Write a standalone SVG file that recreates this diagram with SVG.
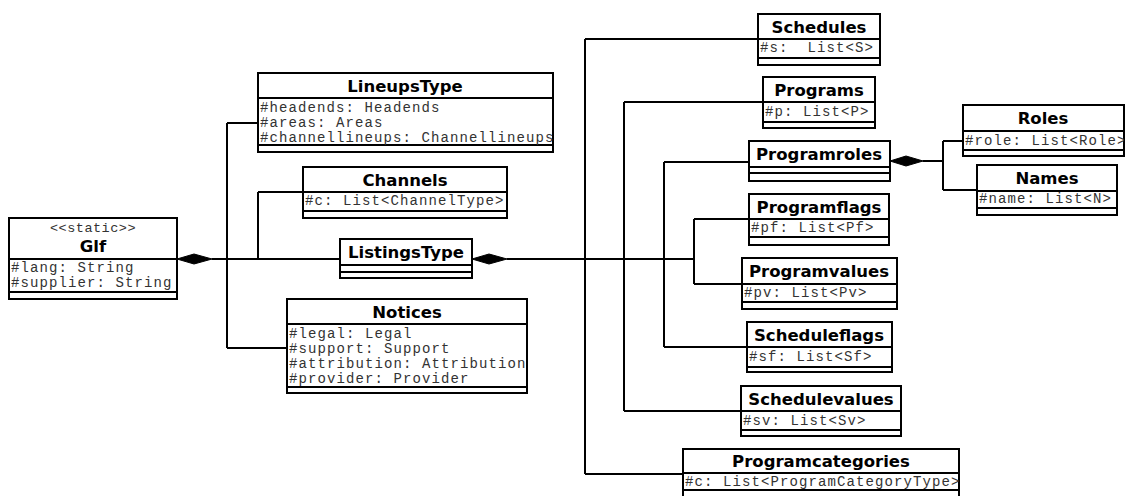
<svg xmlns="http://www.w3.org/2000/svg" width="1126" height="496" viewBox="0 0 1126 496">
<style>
.box{fill:#fff;stroke:#000;stroke-width:2}
.sep{stroke:#000;stroke-width:2}
.t{font-family:"DejaVu Sans",Verdana,sans-serif;font-weight:bold;font-size:16.5px;fill:#000;text-anchor:middle}
.a{font-family:"Liberation Mono","Courier New",monospace;font-size:14px;letter-spacing:1.1px;fill:#333;white-space:pre}
.st{font-family:"Liberation Mono","Courier New",monospace;font-size:13.5px;letter-spacing:0.5px;fill:#333;text-anchor:middle}
.c{fill:none;stroke:#000;stroke-width:2}
.d{fill:#000;stroke:#000;stroke-width:1}
</style>
<rect width="1126" height="496" fill="#fff"/>
<g id="connectors">
<path class="c" d="M212 259H340"/>
<path class="c" d="M227 123V348M227 123H258M227 348H287"/>
<path class="c" d="M258 192V259M258 192H303"/>
<path class="c" d="M507 259H694"/>
<path class="c" d="M585 39V474M585 39H758M585 474H683"/>
<path class="c" d="M624 102V411M624 102H763M624 411H741"/>
<path class="c" d="M664 162V347M664 162H749M664 347H747"/>
<path class="c" d="M694 219V284M694 219H749M694 284H742"/>
<path class="c" d="M923 161H943M943 141V190M943 141H963M943 190H977"/>
<polygon class="d" points="177,259 194,254 212,259 194,264"/>
<polygon class="d" points="472,259 489,254 507,259 489,264"/>
<polygon class="d" points="890,161 906,156 923,161 906,166"/>
</g>
<g id="Glf">
<rect class="box" x="9" y="218" width="168" height="81"/>
<line class="sep" x1="9" y1="259" x2="177" y2="259"/>
<line class="sep" x1="9" y1="292" x2="177" y2="292"/>
<text class="st" x="93" y="232">&lt;&lt;static&gt;&gt;</text>
<text class="t" x="93" y="252">Glf</text>
<text class="a" x="11" y="272">#lang: String</text>
<text class="a" x="11" y="287">#supplier: String</text>
</g>
<g id="LineupsType">
<rect class="box" x="258" y="73" width="295" height="79"/>
<line class="sep" x1="258" y1="98" x2="553" y2="98"/>
<line class="sep" x1="258" y1="145" x2="553" y2="145"/>
<text class="t" x="405" y="92">LineupsType</text>
<svg x="258" y="98" width="295" height="47" overflow="hidden">
<text class="a" x="2" y="14">#headends: Headends</text>
<text class="a" x="2" y="29">#areas: Areas</text>
<text class="a" x="2" y="44">#channellineups: Channellineups</text>
</svg>
</g>
<g id="Channels">
<rect class="box" x="303" y="167" width="204" height="51"/>
<line class="sep" x1="303" y1="192" x2="507" y2="192"/>
<line class="sep" x1="303" y1="211" x2="507" y2="211"/>
<text class="t" x="405" y="186">Channels</text>
<svg x="303" y="192" width="204" height="19" overflow="hidden">
<text class="a" x="2" y="13">#c: List&lt;ChannelType&gt;</text>
</svg>
</g>
<g id="ListingsType">
<rect class="box" x="340" y="239" width="132" height="39"/>
<line class="sep" x1="340" y1="265" x2="472" y2="265"/>
<line class="sep" x1="340" y1="272" x2="472" y2="272"/>
<text class="t" x="406" y="258">ListingsType</text>
</g>
<g id="Notices">
<rect class="box" x="287" y="299" width="240" height="94"/>
<line class="sep" x1="287" y1="324" x2="527" y2="324"/>
<line class="sep" x1="287" y1="387" x2="527" y2="387"/>
<text class="t" x="407" y="318">Notices</text>
<svg x="287" y="324" width="240" height="63" overflow="hidden">
<text class="a" x="2" y="14">#legal: Legal</text>
<text class="a" x="2" y="29">#support: Support</text>
<text class="a" x="2" y="44">#attribution: Attribution</text>
<text class="a" x="2" y="59">#provider: Provider</text>
</svg>
</g>
<g id="Schedules">
<rect class="box" x="758" y="14" width="122" height="51"/>
<line class="sep" x1="758" y1="39" x2="880" y2="39"/>
<line class="sep" x1="758" y1="58" x2="880" y2="58"/>
<text class="t" x="819" y="33">Schedules</text>
<text class="a" x="760" y="52">#s:  List&lt;S&gt;</text>
</g>
<g id="Programs">
<rect class="box" x="763" y="77" width="112" height="51"/>
<line class="sep" x1="763" y1="102" x2="875" y2="102"/>
<line class="sep" x1="763" y1="122" x2="875" y2="122"/>
<text class="t" x="819" y="96">Programs</text>
<text class="a" x="765" y="116">#p: List&lt;P&gt;</text>
</g>
<g id="Programroles">
<rect class="box" x="749" y="141" width="141" height="40"/>
<line class="sep" x1="749" y1="167" x2="890" y2="167"/>
<line class="sep" x1="749" y1="173" x2="890" y2="173"/>
<text class="t" x="819" y="160">Programroles</text>
</g>
<g id="Programflags">
<rect class="box" x="749" y="194" width="140" height="51"/>
<line class="sep" x1="749" y1="219" x2="889" y2="219"/>
<line class="sep" x1="749" y1="237" x2="889" y2="237"/>
<text class="t" x="819" y="213">Programflags</text>
<text class="a" x="751" y="232">#pf: List&lt;Pf&gt;</text>
</g>
<g id="Programvalues">
<rect class="box" x="742" y="258" width="155" height="51"/>
<line class="sep" x1="742" y1="284" x2="897" y2="284"/>
<line class="sep" x1="742" y1="302" x2="897" y2="302"/>
<text class="t" x="819" y="277">Programvalues</text>
<text class="a" x="744" y="297">#pv: List&lt;Pv&gt;</text>
</g>
<g id="Scheduleflags">
<rect class="box" x="747" y="322" width="145" height="50"/>
<line class="sep" x1="747" y1="347" x2="892" y2="347"/>
<line class="sep" x1="747" y1="367" x2="892" y2="367"/>
<text class="t" x="819" y="341">Scheduleflags</text>
<text class="a" x="749" y="361">#sf: List&lt;Sf&gt;</text>
</g>
<g id="Schedulevalues">
<rect class="box" x="741" y="386" width="160" height="50"/>
<line class="sep" x1="741" y1="411" x2="901" y2="411"/>
<line class="sep" x1="741" y1="430" x2="901" y2="430"/>
<text class="t" x="821" y="405">Schedulevalues</text>
<text class="a" x="743" y="425">#sv: List&lt;Sv&gt;</text>
</g>
<g id="Programcategories">
<rect class="box" x="683" y="449" width="276" height="49"/>
<line class="sep" x1="683" y1="473" x2="959" y2="473"/>
<line class="sep" x1="683" y1="490" x2="959" y2="490"/>
<text class="t" x="821" y="467">Programcategories</text>
<svg x="683" y="473" width="276" height="17" overflow="hidden">
<text class="a" x="2" y="13">#c: List&lt;ProgramCategoryType&gt;</text>
</svg>
</g>
<g id="Roles">
<rect class="box" x="963" y="105" width="161" height="51"/>
<line class="sep" x1="963" y1="131" x2="1124" y2="131"/>
<line class="sep" x1="963" y1="150" x2="1124" y2="150"/>
<text class="t" x="1043" y="124">Roles</text>
<svg x="963" y="131" width="161" height="19" overflow="hidden">
<text class="a" x="2" y="14">#role: List&lt;Role&gt;</text>
</svg>
</g>
<g id="Names">
<rect class="box" x="977" y="165" width="140" height="50"/>
<line class="sep" x1="977" y1="191" x2="1117" y2="191"/>
<line class="sep" x1="977" y1="208" x2="1117" y2="208"/>
<text class="t" x="1047" y="184">Names</text>
<text class="a" x="979" y="203">#name: List&lt;N&gt;</text>
</g>
</svg>
